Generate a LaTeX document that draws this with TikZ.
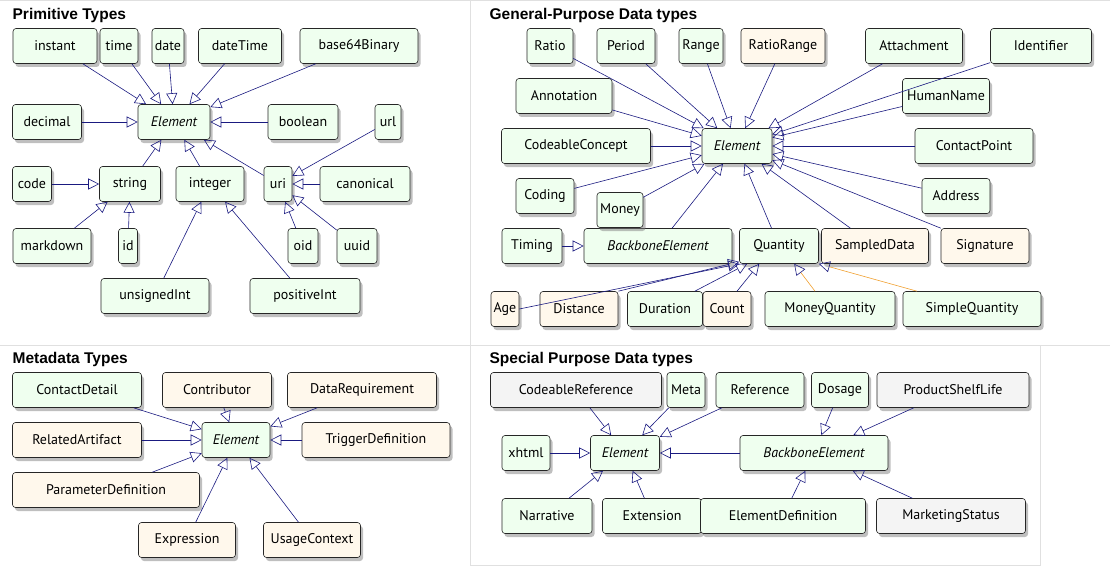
\documentclass[tikz,border=0pt]{standalone}
\usepackage{fontspec}
\setmainfont{PT Sans}
\newfontfamily\titlefont{Liberation Sans}
\usetikzlibrary{arrows.meta,shadows}
\definecolor{dtgreen}{HTML}{EFFFEF}
\definecolor{dtbeige}{HTML}{FFF8EC}
\definecolor{dtgrey}{HTML}{F4F4F4}
\definecolor{dtnavy}{HTML}{1A1A80}
\definecolor{dtorange}{HTML}{F0A030}
\tikzset{every path/.style={semithick}, box/.style={draw=black!85, rounded corners=3pt, fill=dtgreen, minimum height=35pt, inner sep=1pt, font=\fontsize{14}{15}\selectfont, drop shadow={shadow xshift=2.5pt, shadow yshift=-3.5pt, opacity=0.5}},
  beige/.style={box, fill=dtbeige}, grey/.style={box, fill=dtgrey},
  isa/.style={draw=dtnavy, -{Triangle[open, length=11pt, width=11pt, color=dtnavy]}},
  title/.style={font=\titlefont\bfseries\fontsize{15.5}{16}\selectfont, anchor=west}}
\newcommand{\dtbox}[6][box]{\node[#1, minimum width=#5pt] (#2) at (#3,#4) {#6};}

\begin{document}
\begin{tikzpicture}[x=1pt,y=-1pt]
  \useasboundingbox (0,0) rectangle (1110,567);
  % panel frames
  \draw[black!12] (0,0) -- (1110,0) (470,0) -- (470,565) (0,345) -- (1110,345) (470,565) -- (1040,565) -- (1040,345);
  \node[title] at (9,15) {Primitive Types};
  \node[title] at (486,15) {General-Purpose Data types};
  \node[title] at (9,359) {Metadata Types};
  \node[title] at (486,359) {Special Purpose Data types};
  % primitive
  \dtbox{pInstant}{55}{46}{84}{instant}
  \dtbox{pTime}{119}{46}{38}{time}
  \dtbox{pDate}{168}{46}{32}{date}
  \dtbox{pDateTime}{240}{46}{83}{dateTime}
  \dtbox{pBase}{359}{46}{118}{base64Binary}
  \dtbox{pElement}{174}{122}{72}{\itshape Element}
  \dtbox{pDecimal}{47}{122}{69}{decimal}
  \dtbox{pBoolean}{303}{122}{70}{boolean}
  \dtbox{pUrl}{388}{122}{26}{url}
  \dtbox{pCode}{32}{184}{39}{code}
  \dtbox{pString}{130}{184}{61}{string}
  \dtbox{pInteger}{210}{184}{68}{integer}
  \dtbox{pUri}{278}{184}{28}{uri}
  \dtbox{pCanonical}{365}{184}{90}{canonical}
  \dtbox{pMarkdown}{52}{246}{78}{markdown}
  \dtbox{pId}{128}{246}{19}{id}
  \dtbox{pOid}{303}{246}{30}{oid}
  \dtbox{pUuid}{357}{246}{40}{uuid}
  \dtbox{pUnsigned}{155}{296}{108}{unsignedInt}
  \dtbox{pPositive}{305}{296}{110}{positiveInt}
  \foreach \s in {pInstant,pTime,pDate,pDateTime,pBase,pDecimal,pBoolean,pString,pInteger,pUri}
    \draw[isa] (\s) -- (pElement);
  \foreach \s in {pCode,pMarkdown,pId} \draw[isa] (\s) -- (pString);
  \foreach \s in {pUnsigned,pPositive} \draw[isa] (\s) -- (pInteger);
  \foreach \s in {pUrl,pCanonical,pOid,pUuid} \draw[isa] (\s) -- (pUri);
  % general purpose
  \dtbox{gRatio}{550}{46}{46}{Ratio}
  \dtbox{gPeriod}{626}{46}{58}{Period}
  \dtbox{gRange}{701}{46}{44}{Range}
  \dtbox[beige]{gRatioRange}{783}{46}{84}{RatioRange}
  \dtbox{gAttachment}{914}{46}{97}{Attachment}
  \dtbox{gIdentifier}{1041}{46}{101}{Identifier}
  \dtbox{gAnnotation}{564}{96}{96}{Annotation}
  \dtbox{gHumanName}{946}{96}{87}{HumanName}
  \dtbox{gConcept}{576}{146}{149}{CodeableConcept}
  \dtbox{gElement}{737}{146}{70}{\itshape Element}
  \dtbox{gContactPoint}{974}{146}{118}{ContactPoint}
  \dtbox{gCoding}{545}{196}{58}{Coding}
  \dtbox{gAddress}{956}{196}{68}{Address}
  \dtbox{gTiming}{532}{246}{60}{Timing}
  \dtbox{gBackbone}{658}{246}{148}{\itshape BackboneElement}
  \dtbox{gQuantity}{779}{246}{79}{Quantity}
  \dtbox[beige]{gSampled}{875}{246}{107}{SampledData}
  \dtbox[beige]{gSignature}{985}{246}{88}{Signature}
  \dtbox{gMoney}{620}{210}{46}{Money}
  \dtbox[beige]{gAge}{505}{309}{28}{Age}
  \dtbox[beige]{gDistance}{579}{309}{78}{Distance}
  \dtbox{gDuration}{665}{309}{75}{Duration}
  \dtbox[beige]{gCount}{727}{309}{48}{Count}
  \dtbox{gMoneyQ}{830}{309}{130}{MoneyQuantity}
  \dtbox{gSimpleQ}{972}{309}{138}{SimpleQuantity}
  \foreach \s in {gRatio,gPeriod,gRange,gRatioRange,gAttachment,gIdentifier,gAnnotation,gHumanName,gConcept,gContactPoint,gCoding,gMoney,gAddress,gBackbone,gQuantity,gSampled,gSignature}
    \draw[isa] (\s) -- (gElement);
  \draw[isa] (gTiming) -- (gBackbone);
  \draw[isa] (gAge.east) -- (gQuantity.south west);
  \draw[isa] (gDistance.north east) -- ([yshift=2pt]gQuantity.south west);
  \draw[isa] ([xshift=-8pt]gDuration.north east) -- ([xshift=8pt]gQuantity.south west);
  \draw[isa] ([xshift=10pt]gCount.north) -- ([xshift=20pt]gQuantity.south west);
  \draw[isa, draw=dtorange] ([xshift=-15pt]gMoneyQ.north) -- ([xshift=55pt]gQuantity.south west);
  \draw[isa, draw=dtorange] ([xshift=-55pt]gSimpleQ.north) -- (gQuantity.south east);
  % metadata
  \dtbox{mContactDetail}{77}{390}{129}{ContactDetail}
  \dtbox[beige]{mContributor}{217}{390}{109}{Contributor}
  \dtbox[beige]{mDataReq}{362}{390}{149}{DataRequirement}
  \dtbox[beige]{mRelated}{77}{440}{129}{RelatedArtifact}
  \dtbox{mElement}{236}{440}{68}{\itshape Element}
  \dtbox[beige]{mTrigger}{376}{440}{148}{TriggerDefinition}
  \dtbox[beige]{mParameter}{106}{490}{187}{ParameterDefinition}
  \dtbox[beige]{mExpression}{187}{540}{97}{Expression}
  \dtbox[beige]{mUsage}{312}{540}{97}{UsageContext}
  \foreach \s in {mContactDetail,mContributor,mDataReq,mRelated,mTrigger,mParameter,mExpression,mUsage}
    \draw[isa] (\s) -- (mElement);
  % special purpose
  \dtbox[grey]{sCodeableRef}{576}{390}{171}{CodeableReference}
  \dtbox{sMeta}{686}{390}{38}{Meta}
  \dtbox{sReference}{760}{390}{88}{Reference}
  \dtbox{sDosage}{840}{390}{57}{Dosage}
  \dtbox[grey]{sShelfLife}{953}{390}{152}{ProductShelfLife}
  \dtbox{sXhtml}{526}{453}{48}{xhtml}
  \dtbox{sElement}{625}{453}{69}{\itshape Element}
  \dtbox{sBackbone}{814}{453}{148}{\itshape BackboneElement}
  \dtbox{sNarrative}{547}{516}{90}{Narrative}
  \dtbox{sExtension}{652}{516}{99}{Extension}
  \dtbox{sElementDef}{783}{516}{165}{ElementDefinition}
  \dtbox[grey]{sMarketing}{951}{516}{149}{MarketingStatus}
  \foreach \s in {sCodeableRef,sMeta,sReference,sXhtml,sNarrative,sExtension,sBackbone}
    \draw[isa] (\s) -- (sElement);
  \foreach \s in {sDosage,sShelfLife,sElementDef,sMarketing}
    \draw[isa] (\s) -- (sBackbone);
\end{tikzpicture}
\end{document}
